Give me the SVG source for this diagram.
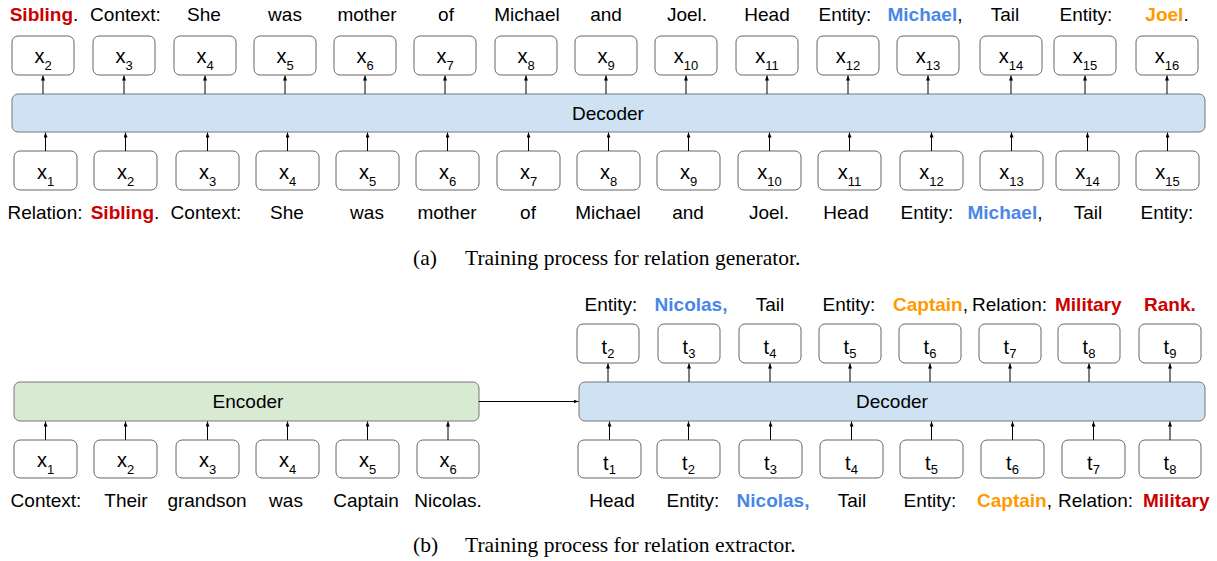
<svg xmlns="http://www.w3.org/2000/svg" width="1217" height="561" viewBox="0 0 1217 561">
<style>
.box{fill:#fff;stroke:#666;stroke-width:1}
.dec{fill:#cfe2f3;stroke:#777;stroke-width:1}
.enc{fill:#d9ead3;stroke:#777;stroke-width:1}
text{font-family:"Liberation Sans",Arial,sans-serif;font-size:19px;fill:#000}
.m{text-anchor:middle}
.tk{font-size:20px}
.sub{font-size:13px}
.r{fill:#cc0000;font-weight:bold}
.bl{fill:#4a86e8;font-weight:bold}
.o{fill:#ff9900;font-weight:bold}
.cap{font-family:"Liberation Serif","Times New Roman",serif;font-size:21.5px}
.c{stroke:#000;stroke-width:1;fill:none;marker-end:url(#ah)}
</style>
<defs>
<marker id="ah" markerUnits="userSpaceOnUse" markerWidth="5" markerHeight="4" refX="5" refY="2" orient="auto">
<path d="M0,0 L5,2 L0,4 z" fill="#000"/>
</marker>
</defs>

<!-- ===== (a) ===== -->
<g id="a-decoder"><rect class="dec" x="12" y="94" width="1193" height="38" rx="6"/><text class="m" x="608" y="120">Decoder</text></g>

<g id="a-out">
<g id="a-o2"><rect class="box" x="12" y="36" width="62" height="39" rx="6"/><text class="m tk" x="43" y="63">x<tspan class="sub" dy="7">2</tspan></text></g>
<g id="a-o3"><rect class="box" x="93" y="36" width="62" height="39" rx="6"/><text class="m tk" x="124" y="63">x<tspan class="sub" dy="7">3</tspan></text></g>
<g id="a-o4"><rect class="box" x="174" y="36" width="62" height="39" rx="6"/><text class="m tk" x="205" y="63">x<tspan class="sub" dy="7">4</tspan></text></g>
<g id="a-o5"><rect class="box" x="254" y="36" width="62" height="39" rx="6"/><text class="m tk" x="285" y="63">x<tspan class="sub" dy="7">5</tspan></text></g>
<g id="a-o6"><rect class="box" x="334" y="36" width="62" height="39" rx="6"/><text class="m tk" x="365" y="63">x<tspan class="sub" dy="7">6</tspan></text></g>
<g id="a-o7"><rect class="box" x="414" y="36" width="62" height="39" rx="6"/><text class="m tk" x="445" y="63">x<tspan class="sub" dy="7">7</tspan></text></g>
<g id="a-o8"><rect class="box" x="495" y="36" width="62" height="39" rx="6"/><text class="m tk" x="526" y="63">x<tspan class="sub" dy="7">8</tspan></text></g>
<g id="a-o9"><rect class="box" x="575" y="36" width="62" height="39" rx="6"/><text class="m tk" x="606" y="63">x<tspan class="sub" dy="7">9</tspan></text></g>
<g id="a-o10"><rect class="box" x="655" y="36" width="62" height="39" rx="6"/><text class="m tk" x="686" y="63">x<tspan class="sub" dy="7">10</tspan></text></g>
<g id="a-o11"><rect class="box" x="736" y="36" width="62" height="39" rx="6"/><text class="m tk" x="767" y="63">x<tspan class="sub" dy="7">11</tspan></text></g>
<g id="a-o12"><rect class="box" x="817" y="36" width="62" height="39" rx="6"/><text class="m tk" x="848" y="63">x<tspan class="sub" dy="7">12</tspan></text></g>
<g id="a-o13"><rect class="box" x="897" y="36" width="62" height="39" rx="6"/><text class="m tk" x="928" y="63">x<tspan class="sub" dy="7">13</tspan></text></g>
<g id="a-o14"><rect class="box" x="980" y="36" width="62" height="39" rx="6"/><text class="m tk" x="1011" y="63">x<tspan class="sub" dy="7">14</tspan></text></g>
<g id="a-o15"><rect class="box" x="1054" y="36" width="62" height="39" rx="6"/><text class="m tk" x="1085" y="63">x<tspan class="sub" dy="7">15</tspan></text></g>
<g id="a-o16"><rect class="box" x="1136" y="36" width="62" height="39" rx="6"/><text class="m tk" x="1167" y="63">x<tspan class="sub" dy="7">16</tspan></text></g>
</g>

<g id="a-in">
<g id="a-i1"><rect class="box" x="14" y="151" width="63" height="39" rx="6"/><text class="m tk" x="45.5" y="178.5">x<tspan class="sub" dy="7">1</tspan></text></g>
<g id="a-i2"><rect class="box" x="94" y="151" width="63" height="39" rx="6"/><text class="m tk" x="125.5" y="178.5">x<tspan class="sub" dy="7">2</tspan></text></g>
<g id="a-i3"><rect class="box" x="176" y="151" width="63" height="39" rx="6"/><text class="m tk" x="207.5" y="178.5">x<tspan class="sub" dy="7">3</tspan></text></g>
<g id="a-i4"><rect class="box" x="256" y="151" width="63" height="39" rx="6"/><text class="m tk" x="287.5" y="178.5">x<tspan class="sub" dy="7">4</tspan></text></g>
<g id="a-i5"><rect class="box" x="336" y="151" width="63" height="39" rx="6"/><text class="m tk" x="367.5" y="178.5">x<tspan class="sub" dy="7">5</tspan></text></g>
<g id="a-i6"><rect class="box" x="416" y="151" width="63" height="39" rx="6"/><text class="m tk" x="447.5" y="178.5">x<tspan class="sub" dy="7">6</tspan></text></g>
<g id="a-i7"><rect class="box" x="497" y="151" width="63" height="39" rx="6"/><text class="m tk" x="528.5" y="178.5">x<tspan class="sub" dy="7">7</tspan></text></g>
<g id="a-i8"><rect class="box" x="577" y="151" width="63" height="39" rx="6"/><text class="m tk" x="608.5" y="178.5">x<tspan class="sub" dy="7">8</tspan></text></g>
<g id="a-i9"><rect class="box" x="657" y="151" width="63" height="39" rx="6"/><text class="m tk" x="688.5" y="178.5">x<tspan class="sub" dy="7">9</tspan></text></g>
<g id="a-i10"><rect class="box" x="738" y="151" width="63" height="39" rx="6"/><text class="m tk" x="769.5" y="178.5">x<tspan class="sub" dy="7">10</tspan></text></g>
<g id="a-i11"><rect class="box" x="818" y="151" width="63" height="39" rx="6"/><text class="m tk" x="849.5" y="178.5">x<tspan class="sub" dy="7">11</tspan></text></g>
<g id="a-i12"><rect class="box" x="900" y="151" width="63" height="39" rx="6"/><text class="m tk" x="931.5" y="178.5">x<tspan class="sub" dy="7">12</tspan></text></g>
<g id="a-i13"><rect class="box" x="980" y="151" width="63" height="39" rx="6"/><text class="m tk" x="1011.5" y="178.5">x<tspan class="sub" dy="7">13</tspan></text></g>
<g id="a-i14"><rect class="box" x="1056" y="151" width="63" height="39" rx="6"/><text class="m tk" x="1087.5" y="178.5">x<tspan class="sub" dy="7">14</tspan></text></g>
<g id="a-i15"><rect class="box" x="1136" y="151" width="63" height="39" rx="6"/><text class="m tk" x="1167.5" y="178.5">x<tspan class="sub" dy="7">15</tspan></text></g>
</g>

<g id="a-words-top">
<text class="m" x="44" y="21"><tspan class="r">Sibling</tspan>.</text>
<text class="m" x="125.5" y="21">Context:</text>
<text class="m" x="204" y="21">She</text>
<text class="m" x="285" y="21">was</text>
<text class="m" x="367" y="21">mother</text>
<text class="m" x="446" y="21">of</text>
<text class="m" x="527" y="21">Michael</text>
<text class="m" x="606" y="21">and</text>
<text class="m" x="687" y="21">Joel.</text>
<text class="m" x="767" y="21">Head</text>
<text class="m" x="845" y="21">Entity:</text>
<text class="m" x="925" y="21"><tspan class="bl">Michael</tspan>,</text>
<text class="m" x="1005" y="21">Tail</text>
<text class="m" x="1086" y="21">Entity:</text>
<text class="m" x="1167" y="21"><tspan class="o">Joel</tspan>.</text>
</g>

<g id="a-words-bottom">
<text class="m" x="45" y="219">Relation:</text>
<text class="m" x="125" y="219"><tspan class="r">Sibling</tspan>.</text>
<text class="m" x="206" y="219">Context:</text>
<text class="m" x="287" y="219">She</text>
<text class="m" x="367" y="219">was</text>
<text class="m" x="447" y="219">mother</text>
<text class="m" x="528" y="219">of</text>
<text class="m" x="608" y="219">Michael</text>
<text class="m" x="688" y="219">and</text>
<text class="m" x="769" y="219">Joel.</text>
<text class="m" x="846" y="219">Head</text>
<text class="m" x="927" y="219">Entity:</text>
<text class="m" x="1005" y="219"><tspan class="bl">Michael</tspan>,</text>
<text class="m" x="1088" y="219">Tail</text>
<text class="m" x="1167" y="219">Entity:</text>
</g>

<g id="caption-a">
<text class="cap" x="413" y="265">(a)</text>
<text class="cap" x="465" y="265">Training process for relation generator.</text>
</g>

<!-- ===== (b) ===== -->
<g id="b-encoder"><rect class="enc" x="14" y="382" width="465" height="39" rx="6"/><text class="m" x="248" y="408">Encoder</text></g>
<g id="b-decoder"><rect class="dec" x="579" y="382" width="626" height="39" rx="6"/><text class="m" x="892" y="408">Decoder</text></g>

<g id="b-out">
<g id="b-o2"><rect class="box" x="577" y="324" width="62" height="39" rx="6"/><text class="m tk" x="608" y="354">t<tspan class="sub" dy="4">2</tspan></text></g>
<g id="b-o3"><rect class="box" x="658" y="324" width="62" height="39" rx="6"/><text class="m tk" x="689" y="354">t<tspan class="sub" dy="4">3</tspan></text></g>
<g id="b-o4"><rect class="box" x="739" y="324" width="62" height="39" rx="6"/><text class="m tk" x="770" y="354">t<tspan class="sub" dy="4">4</tspan></text></g>
<g id="b-o5"><rect class="box" x="819" y="324" width="62" height="39" rx="6"/><text class="m tk" x="850" y="354">t<tspan class="sub" dy="4">5</tspan></text></g>
<g id="b-o6"><rect class="box" x="899" y="324" width="62" height="39" rx="6"/><text class="m tk" x="930" y="354">t<tspan class="sub" dy="4">6</tspan></text></g>
<g id="b-o7"><rect class="box" x="979" y="324" width="62" height="39" rx="6"/><text class="m tk" x="1010" y="354">t<tspan class="sub" dy="4">7</tspan></text></g>
<g id="b-o8"><rect class="box" x="1058" y="324" width="62" height="39" rx="6"/><text class="m tk" x="1089" y="354">t<tspan class="sub" dy="4">8</tspan></text></g>
<g id="b-o9"><rect class="box" x="1139" y="324" width="62" height="39" rx="6"/><text class="m tk" x="1170" y="354">t<tspan class="sub" dy="4">9</tspan></text></g>
</g>

<g id="b-enc-in">
<g id="b-x1"><rect class="box" x="14" y="440" width="63" height="38" rx="6"/><text class="m tk" x="45.5" y="467">x<tspan class="sub" dy="7">1</tspan></text></g>
<g id="b-x2"><rect class="box" x="94" y="440" width="63" height="38" rx="6"/><text class="m tk" x="125.5" y="467">x<tspan class="sub" dy="7">2</tspan></text></g>
<g id="b-x3"><rect class="box" x="176" y="440" width="63" height="38" rx="6"/><text class="m tk" x="207.5" y="467">x<tspan class="sub" dy="7">3</tspan></text></g>
<g id="b-x4"><rect class="box" x="256" y="440" width="63" height="38" rx="6"/><text class="m tk" x="287.5" y="467">x<tspan class="sub" dy="7">4</tspan></text></g>
<g id="b-x5"><rect class="box" x="336" y="440" width="63" height="38" rx="6"/><text class="m tk" x="367.5" y="467">x<tspan class="sub" dy="7">5</tspan></text></g>
<g id="b-x6"><rect class="box" x="417" y="440" width="62" height="38" rx="6"/><text class="m tk" x="448" y="467">x<tspan class="sub" dy="7">6</tspan></text></g>
</g>

<g id="b-dec-in">
<g id="b-t1"><rect class="box" x="578" y="440" width="63" height="38" rx="6"/><text class="m tk" x="609.5" y="470">t<tspan class="sub" dy="4">1</tspan></text></g>
<g id="b-t2"><rect class="box" x="657" y="440" width="63" height="38" rx="6"/><text class="m tk" x="688.5" y="470">t<tspan class="sub" dy="4">2</tspan></text></g>
<g id="b-t3"><rect class="box" x="739" y="440" width="63" height="38" rx="6"/><text class="m tk" x="770.5" y="470">t<tspan class="sub" dy="4">3</tspan></text></g>
<g id="b-t4"><rect class="box" x="820" y="440" width="63" height="38" rx="6"/><text class="m tk" x="851.5" y="470">t<tspan class="sub" dy="4">4</tspan></text></g>
<g id="b-t5"><rect class="box" x="900" y="440" width="63" height="38" rx="6"/><text class="m tk" x="931.5" y="470">t<tspan class="sub" dy="4">5</tspan></text></g>
<g id="b-t6"><rect class="box" x="981" y="440" width="63" height="38" rx="6"/><text class="m tk" x="1012.5" y="470">t<tspan class="sub" dy="4">6</tspan></text></g>
<g id="b-t7"><rect class="box" x="1062" y="440" width="63" height="38" rx="6"/><text class="m tk" x="1093.5" y="470">t<tspan class="sub" dy="4">7</tspan></text></g>
<g id="b-t8"><rect class="box" x="1139" y="440" width="62" height="38" rx="6"/><text class="m tk" x="1170" y="470">t<tspan class="sub" dy="4">8</tspan></text></g>
</g>

<g id="b-words-top">
<text class="m" x="611" y="311">Entity:</text>
<text class="m" x="691" y="311"><tspan class="bl">Nicolas,</tspan></text>
<text class="m" x="770" y="311">Tail</text>
<text class="m" x="849" y="311">Entity:</text>
<text x="893" y="311"><tspan class="o">Captain</tspan>,</text>
<text x="972" y="311">Relation:</text>
<text x="1055" y="311"><tspan class="r">Military</tspan></text>
<text x="1144" y="311"><tspan class="r">Rank.</tspan></text>
</g>

<g id="b-words-bottom">
<text class="m" x="46" y="507">Context:</text>
<text class="m" x="126" y="507">Their</text>
<text class="m" x="207" y="507">grandson</text>
<text class="m" x="286" y="507">was</text>
<text class="m" x="366" y="507">Captain</text>
<text class="m" x="448" y="507">Nicolas.</text>
<text class="m" x="612" y="507">Head</text>
<text class="m" x="693" y="507">Entity:</text>
<text class="m" x="773" y="507"><tspan class="bl">Nicolas,</tspan></text>
<text class="m" x="852" y="507">Tail</text>
<text class="m" x="930" y="507">Entity:</text>
<text x="977" y="507"><tspan class="o">Captain</tspan>,</text>
<text x="1058" y="507">Relation:</text>
<text x="1143" y="507"><tspan class="r">Military</tspan></text>
</g>

<g id="caption-b">
<text class="cap" x="413" y="552">(b)</text>
<text class="cap" x="465" y="552">Training process for relation extractor.</text>
</g>

<g id="connectors">
<!-- (a) -->
<path class="c" d="M43,94V75.5"/><path class="c" d="M124,94V75.5"/><path class="c" d="M205,94V75.5"/><path class="c" d="M285,94V75.5"/><path class="c" d="M365,94V75.5"/><path class="c" d="M445,94V75.5"/><path class="c" d="M526,94V75.5"/><path class="c" d="M606,94V75.5"/><path class="c" d="M686,94V75.5"/><path class="c" d="M767,94V75.5"/><path class="c" d="M848,94V75.5"/><path class="c" d="M928,94V75.5"/><path class="c" d="M1011,94V75.5"/><path class="c" d="M1085,94V75.5"/><path class="c" d="M1167,94V75.5"/>
<path class="c" d="M45.5,151V132.5"/><path class="c" d="M125.5,151V132.5"/><path class="c" d="M207.5,151V132.5"/><path class="c" d="M287.5,151V132.5"/><path class="c" d="M367.5,151V132.5"/><path class="c" d="M447.5,151V132.5"/><path class="c" d="M528.5,151V132.5"/><path class="c" d="M608.5,151V132.5"/><path class="c" d="M688.5,151V132.5"/><path class="c" d="M769.5,151V132.5"/><path class="c" d="M849.5,151V132.5"/><path class="c" d="M931.5,151V132.5"/><path class="c" d="M1011.5,151V132.5"/><path class="c" d="M1087.5,151V132.5"/><path class="c" d="M1167.5,151V132.5"/>
<!-- (b) -->
<path class="c" d="M608,382V363.5"/><path class="c" d="M689,382V363.5"/><path class="c" d="M770,382V363.5"/><path class="c" d="M850,382V363.5"/><path class="c" d="M930,382V363.5"/><path class="c" d="M1010,382V363.5"/><path class="c" d="M1089,382V363.5"/><path class="c" d="M1170,382V363.5"/>
<path class="c" d="M45.5,440V421.5"/><path class="c" d="M125.5,440V421.5"/><path class="c" d="M207.5,440V421.5"/><path class="c" d="M287.5,440V421.5"/><path class="c" d="M367.5,440V421.5"/><path class="c" d="M448,440V421.5"/>
<path class="c" d="M609.5,440V421.5"/><path class="c" d="M688.5,440V421.5"/><path class="c" d="M770.5,440V421.5"/><path class="c" d="M851.5,440V421.5"/><path class="c" d="M931.5,440V421.5"/><path class="c" d="M1012.5,440V421.5"/><path class="c" d="M1093.5,440V421.5"/><path class="c" d="M1170,440V421.5"/>
<path class="c" d="M479,401.5H578.5"/>
</g>
</svg>
